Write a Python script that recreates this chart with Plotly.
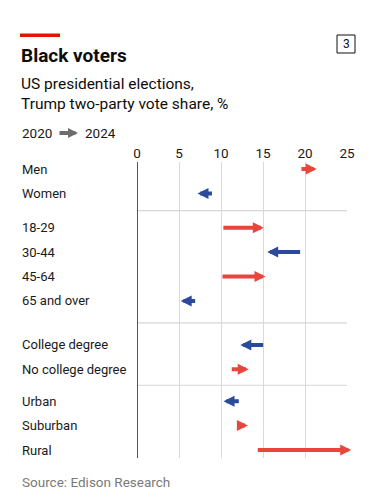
import plotly.graph_objects as go

# ---- data ----
groups = [
    ["Men", "Women"],
    ["18-29", "30-44", "45-64", "65 and over"],
    ["College degree", "No college degree"],
    ["Urban", "Suburban", "Rural"],
]
vote_2020 = [19.4, 9.1, 10.1, 19.6, 10.0, 7.1, 15.2, 11.1, 12.3, 12.3, 14.2]
vote_2024 = [21.4, 7.2, 15.1, 15.5, 15.3, 5.2, 12.3, 13.3, 10.3, 13.2, 25.5]
x_ticks = [0, 5, 10, 15, 20, 25]

RED = "#e8463c"
BLUE = "#2b4a9b"
W, H = 368, 502
L, R, T, B = 137, 21, 162, 44
PW, PH = W - L - R, H - T - B

group_gaps = [0, 1.4, 1.8, 1.3]

# compute row positions
labels, ypos, seps = [], [], []
pos = 0.0
for gi, g in enumerate(groups):
    if gi > 0:
        prev = pos - 1
        pos = prev + group_gaps[gi]
        seps.append((prev + pos) / 2)
    for lab in g:
        labels.append(lab)
        ypos.append(pos)
        pos += 1
last = ypos[-1]
unit = (450 - 169) / last
y_top = -(169 - T) / unit
y_bot = last + (T + PH - 450) / unit

def px_x(px):
    return (px - L) / PW

def px_y(py):
    return (T + PH - py) / PH

fig = go.Figure()
# invisible trace to set up axes
fig.add_trace(go.Scatter(x=vote_2020, y=ypos, mode="markers",
                         marker=dict(opacity=0), hoverinfo="skip", showlegend=False))

for lab, y, a, b in zip(labels, ypos, vote_2020, vote_2024):
    col = RED if b > a else BLUE
    fig.add_annotation(x=b, y=y, ax=a, ay=y, xref="x", yref="y", axref="x", ayref="y",
                       text="", showarrow=True, arrowhead=2, arrowsize=0.55,
                       arrowwidth=4, arrowcolor=col, standoff=0)
    fig.add_annotation(x=px_x(20), y=y, xref="paper", yref="y", text=lab,
                       showarrow=False, xanchor="left", yanchor="middle",
                       font=dict(family="Roboto", size=13, color="#1a1a1a"))

for s in seps:
    fig.add_shape(type="line", x0=0, x1=25, y0=s, y1=s, xref="x", yref="y",
                  line=dict(color="#d6d6d6", width=1.2), layer="below")

# zero line
fig.add_shape(type="line", x0=0, x1=0, y0=y_top, y1=y_bot, xref="x", yref="y",
              line=dict(color="#222222", width=1.5))

# header
fig.add_shape(type="rect", xref="paper", yref="paper", x0=px_x(20), x1=px_x(60),
              y0=px_y(37), y1=px_y(33.5), fillcolor="#e3120b", line=dict(width=0))
fig.add_shape(type="rect", xref="paper", yref="paper", x0=px_x(337), x1=px_x(355),
              y0=px_y(53), y1=px_y(35), line=dict(color="#111111", width=1))
fig.add_annotation(x=px_x(346), y=px_y(44), xref="paper", yref="paper", text="3",
                   showarrow=False, xanchor="center", yanchor="middle",
                   font=dict(family="Roboto", size=12, color="#111111"))
fig.add_annotation(x=px_x(19), y=px_y(55), xref="paper", yref="paper",
                   text="<b>Black voters</b>", showarrow=False, xanchor="left", yanchor="middle",
                   font=dict(family="Roboto", size=19, color="#0d0d0d"))
fig.add_annotation(x=px_x(19), y=px_y(84), xref="paper", yref="paper",
                   text="US presidential elections,", showarrow=False, xanchor="left",
                   yanchor="middle", font=dict(family="Roboto", size=15.5, color="#0d0d0d"))
fig.add_annotation(x=px_x(19), y=px_y(104.5), xref="paper", yref="paper",
                   text="Trump two-party vote share, %", showarrow=False, xanchor="left",
                   yanchor="middle", font=dict(family="Roboto", size=15.5, color="#0d0d0d"))
fig.add_annotation(x=px_x(20), y=px_y(133), xref="paper", yref="paper", text="2020",
                   showarrow=False, xanchor="left", yanchor="middle",
                   font=dict(family="Roboto", size=13.5, color="#1a1a1a"))
fig.add_annotation(x=px_x(83), y=px_y(133), xref="paper", yref="paper", text="2024",
                   showarrow=False, xanchor="left", yanchor="middle",
                   font=dict(family="Roboto", size=13.5, color="#1a1a1a"))
fig.add_annotation(x=px_x(78), y=px_y(133), ax=-20, ay=0, xref="paper", yref="paper",
                   text="", showarrow=True, arrowhead=2, arrowsize=0.5, arrowwidth=4,
                   arrowcolor="#6e6e6e", standoff=0)
fig.add_annotation(x=px_x(20), y=px_y(482), xref="paper", yref="paper",
                   text="Source: Edison Research", showarrow=False, xanchor="left",
                   yanchor="middle", font=dict(family="Roboto", size=13.5, color="#7a7a7a"))

fig.update_layout(
    width=W, height=H, margin=dict(l=L, r=R, t=T, b=B),
    paper_bgcolor="white", plot_bgcolor="white", showlegend=False,
    xaxis=dict(range=[0, 25], side="top", tickvals=x_ticks, showgrid=True,
               gridcolor="#d9d9d9", gridwidth=1.2, zeroline=False, showline=False,
               ticks="", tickfont=dict(family="Roboto", size=13.5, color="#1a1a1a"),
               fixedrange=True),
    yaxis=dict(range=[y_bot, y_top], showgrid=False, zeroline=False, showticklabels=False,
               ticks="", showline=False, fixedrange=True),
)

fig.write_html("out.html", config={"displayModeBar": False},
               post_script="document.body.style.margin='0';document.body.style.overflow='hidden';")
